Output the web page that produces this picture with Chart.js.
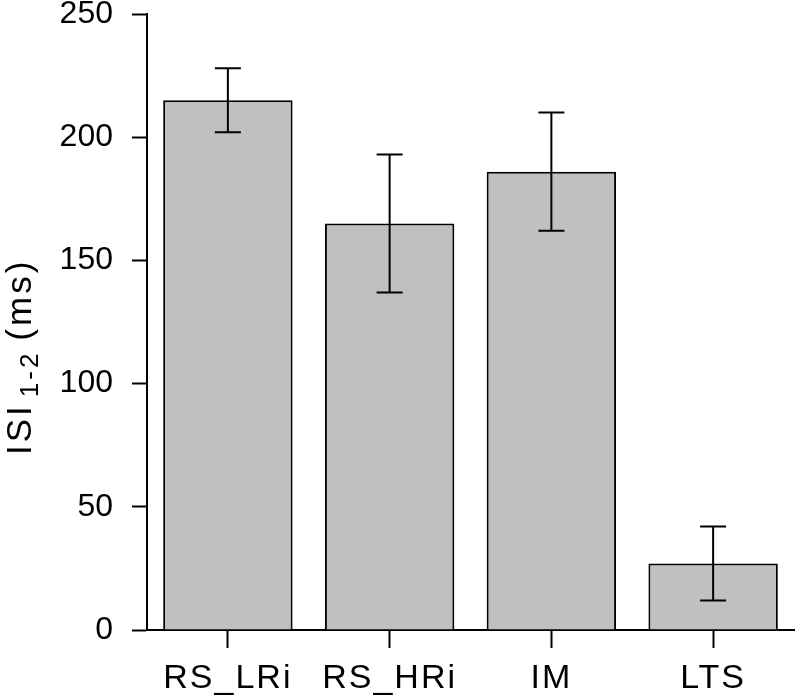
<!DOCTYPE html>
<html>
<head>
<meta charset="utf-8">
<script src="https://cdn.jsdelivr.net/npm/chart.js@4"></script>
<style>
html, body { margin: 0; padding: 0; background: #fff; }
</style>
</head>
<body>
<canvas id="chart" width="798" height="697"></canvas>
<script>
const categories = ["RS_LRi", "RS_HRi", "IM", "LTS"];
const meanISI = [215, 165, 186, 27];
const semISI = [13, 28, 24, 15];
const yTicks = [0, 50, 100, 150, 200, 250];

const FONT = "'Liberation Sans', Arial, sans-serif";

// error bars drawn from the y scale
const errorBars = {
    id: "errorBars",
    afterDatasetsDraw(chart) {
        const ctx = chart.ctx;
        const y = chart.scales.y;
        const bars = chart.getDatasetMeta(0).data;
        ctx.save();
        ctx.strokeStyle = "#000";
        ctx.lineWidth = 2;
        bars.forEach((bar, i) => {
            const top = y.getPixelForValue(meanISI[i] + semISI[i]);
            const bottom = y.getPixelForValue(meanISI[i] - semISI[i]);
            ctx.beginPath();
            ctx.moveTo(bar.x, top);
            ctx.lineTo(bar.x, bottom);
            ctx.moveTo(bar.x - 13, top);
            ctx.lineTo(bar.x + 13, top);
            ctx.moveTo(bar.x - 13, bottom);
            ctx.lineTo(bar.x + 13, bottom);
            ctx.stroke();
        });
        ctx.restore();
    }
};

// wider letter spacing on the category labels
const spacedLabels = {
    id: "spacedLabels",
    beforeDraw(chart) {
        const xs = chart.scales.x;
        if (xs._spaced) return;
        const orig = xs.drawLabels;
        xs.drawLabels = function (area) {
            const ctx = this.ctx;
            ctx.save();
            ctx.letterSpacing = "2px";
            orig.call(this, area);
            ctx.restore();
        };
        xs._spaced = true;
    }
};

// y title with subscript
const yTitle = {
    id: "yTitle",
    afterDraw(chart) {
        const ctx = chart.ctx;
        const parts = [
            { text: "ISI", font: "35px " + FONT, shift: 0, gap: 6 },
            { text: "1-2", font: "26px " + FONT, shift: 7, gap: 10 },
            { text: "(ms)", font: "35px " + FONT, shift: 0, gap: 0 }
        ];
        ctx.save();
        ctx.translate(31, 455);
        ctx.rotate(-Math.PI / 2);
        ctx.fillStyle = "#000";
        ctx.textAlign = "left";
        ctx.textBaseline = "alphabetic";
        ctx.letterSpacing = "3px";
        let x = 0;
        parts.forEach(p => {
            ctx.font = p.font;
            ctx.fillText(p.text, x, p.shift);
            x += ctx.measureText(p.text).width + p.gap;
        });
        ctx.restore();
    }
};

new Chart(document.getElementById("chart"), {
    type: "bar",
    data: {
        labels: categories,
        datasets: [{
            data: meanISI,
            backgroundColor: "#c0c0c0",
            borderColor: "#000",
            borderWidth: 2,
            barPercentage: 0.8,
            categoryPercentage: 1.0
        }]
    },
    options: {
        responsive: false,
        animation: false,
        devicePixelRatio: 1,
        layout: { padding: { top: 14, right: 4, left: 0, bottom: 0 } },
        plugins: {
            legend: { display: false },
            tooltip: { enabled: false }
        },
        scales: {
            x: {
                offset: true,
                ticks: { color: "#000", font: { family: FONT, size: 34 }, padding: 10 },
                grid: { offset: false, drawOnChartArea: false, tickLength: 18, tickColor: "#000", tickWidth: 2 },
                border: { color: "#000", width: 2 },
                afterFit: s => { s.height = 67; s.paddingLeft = 0; s.paddingRight = 0; }
            },
            y: {
                min: 0,
                max: 250,
                afterBuildTicks: s => { s.ticks = yTicks.map(v => ({ value: v })); },
                ticks: { color: "#000", font: { family: FONT, size: 32 }, padding: 19 },
                grid: { drawOnChartArea: false, tickLength: 15, tickColor: "#000", tickWidth: 2 },
                border: { color: "#000", width: 2 },
                afterFit: s => { s.width = 147; s.paddingTop = 0; s.paddingBottom = 0; }
            }
        }
    },
    plugins: [errorBars, spacedLabels, yTitle]
});
</script>
</body>
</html>
